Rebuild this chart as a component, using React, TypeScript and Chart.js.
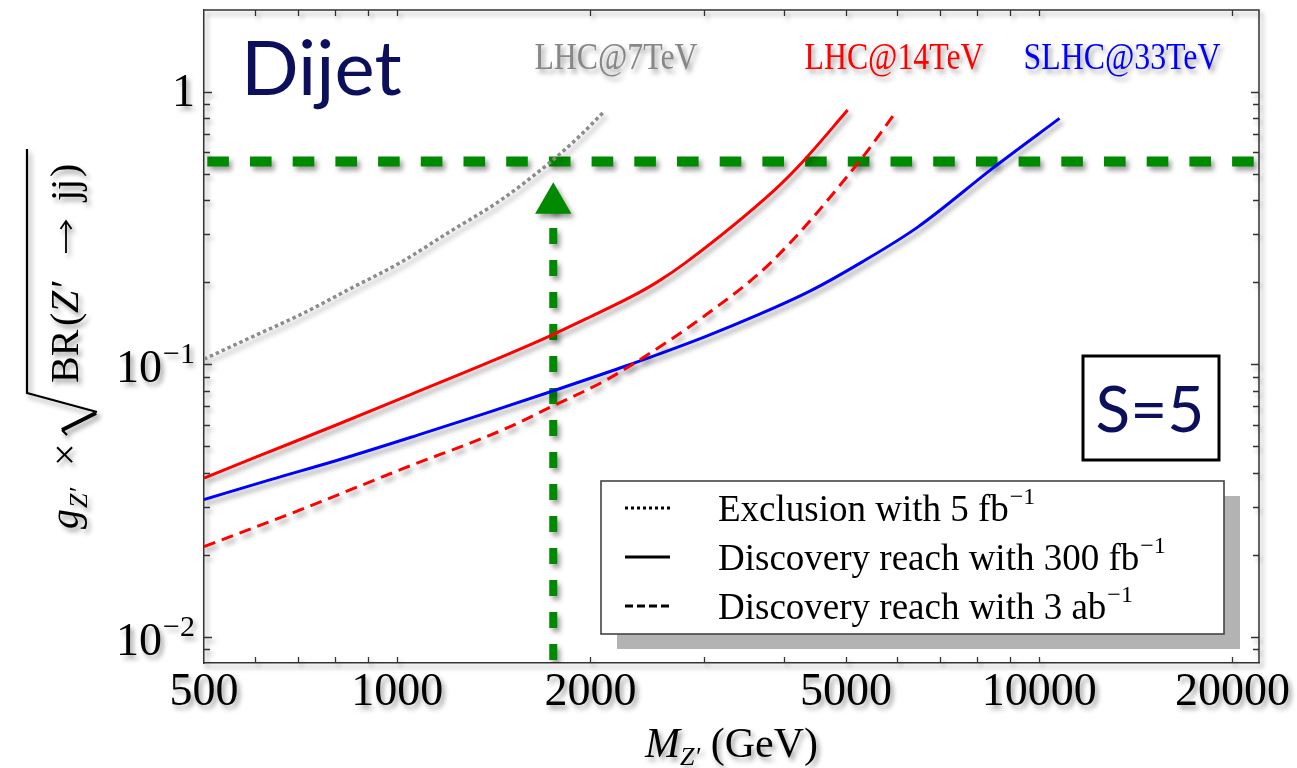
import React, { useEffect, useRef } from "react";
import { Chart, registerables } from "chart.js";

Chart.register(...registerables);

// ---- axis ranges -------------------------------------------------------
const massMin = 500;
const massMax = 22000;
const couplingMin = 0.008;
const couplingMax = 2;

// ---- tick positions and labels -----------------------------------------
const massTicks = [500, 600, 700, 800, 900, 1000, 2000, 3000, 4000, 5000, 6000, 7000, 8000, 9000, 10000, 20000];
const massTickLabels = [500, 1000, 2000, 5000, 10000, 20000];
const couplingTicks = [
  0.008, 0.009, 0.01, 0.02, 0.03, 0.04, 0.05, 0.06, 0.07, 0.08, 0.09,
  0.1, 0.2, 0.3, 0.4, 0.5, 0.6, 0.7, 0.8, 0.9, 1, 2,
];
const couplingLabelValues = [1, 0.1, 0.01];
const couplingLabelBase = ["1", "10", "10"];
const couplingLabelExp = ["", "−1", "−2"];

// ---- LHC @ 7 TeV, exclusion with 5 fb^-1 -------------------------------
const lhc7Mass = [500, 590, 706, 845, 1011, 1209, 1448, 1733, 1916, 2096];
const lhc7Exclusion = [0.1044, 0.1252, 0.152, 0.1896, 0.2363, 0.3075, 0.4, 0.5535, 0.6826, 0.844];

// ---- LHC @ 14 TeV, discovery reach with 300 fb^-1 -----------------------
const lhc14Mass = [500, 598, 807, 1051, 1400, 1738, 2000, 2316, 2547, 2814, 3865, 4279, 5031];
const lhc14Reach300 = [0.0382, 0.0453, 0.0601, 0.0776, 0.1025, 0.1278, 0.1495, 0.1771, 0.2012, 0.2363, 0.4355, 0.5535, 0.858];

// ---- LHC @ 14 TeV, discovery reach with 3 ab^-1 -------------------------
const lhc14MassHL = [500, 716, 1025, 1469, 1747, 2104, 2371, 3013, 3819, 5238, 5934];
const lhc14Reach3000 = [0.0214, 0.02958, 0.04153, 0.0578, 0.07027, 0.0869, 0.1029, 0.1508, 0.2363, 0.5535, 0.823];

// ---- SLHC @ 33 TeV, discovery reach with 300 fb^-1 ----------------------
const slhcMass = [500, 635, 807, 1076, 1383, 1747, 2234, 3013, 3684, 4409, 5277, 6468, 8517, 10757];
const slhcReach300 = [0.03184, 0.03772, 0.04444, 0.05494, 0.06649, 0.0798, 0.0973, 0.1262, 0.1534, 0.1864, 0.2363, 0.319, 0.5307, 0.8];

// ---- benchmark guide lines ----------------------------------------------
const benchmarkCoupling = 0.555;
const benchmarkMass = 1750;
const arrowCoupling = 0.39;

// ---- annotations ---------------------------------------------------------
const colliderNames = ["LHC@7TeV", "LHC@14TeV", "SLHC@33TeV"];
const colliderColors = ["#878787", "#ff0000", "#0000ff"];
const legendTexts = ["Exclusion with 5 fb", "Discovery reach with 300 fb", "Discovery reach with 3 ab"];
const legendDashes: number[][] = [[3, 3], [], [8, 4]];

const SERIF = '"Liberation Serif", "Times New Roman", serif';
const SANS = 'Lato, "Open Sans", sans-serif';
const NAVY = "#0b0f5c";
const GREEN = "#008a00";

const pts = (xs: number[], ys: number[]) => xs.map((x, i) => ({ x, y: ys[i] }));

function setShadow(ctx: CanvasRenderingContext2D) {
  ctx.shadowColor = "rgba(0,0,0,0.38)";
  ctx.shadowBlur = 5;
  ctx.shadowOffsetX = 3;
  ctx.shadowOffsetY = 4;
}

function drawInwardTicks(chart: any) {
  const ctx: CanvasRenderingContext2D = chart.ctx;
  const { left, right, top, bottom } = chart.chartArea;
  const xs = chart.scales.x;
  const ys = chart.scales.y;
  ctx.save();
  ctx.strokeStyle = "#333";
  ctx.lineWidth = 1.3;
  ctx.beginPath();
  for (const v of massTicks) {
    const px = Math.round(xs.getPixelForValue(v)) + 0.5;
    if (px <= left + 1 || px >= right - 1) continue;
    ctx.moveTo(px, bottom);
    ctx.lineTo(px, bottom - 6);
    ctx.moveTo(px, top);
    ctx.lineTo(px, top + 6);
  }
  for (const v of couplingTicks) {
    const py = Math.round(ys.getPixelForValue(v)) + 0.5;
    if (py <= top + 1 || py >= bottom - 1) continue;
    const len = couplingLabelValues.includes(v) ? 8 : 6;
    ctx.moveTo(left, py);
    ctx.lineTo(left + len, py);
    ctx.moveTo(right, py);
    ctx.lineTo(right - len, py);
  }
  ctx.stroke();
  // upper and right frame edges
  ctx.lineWidth = 1.5;
  ctx.beginPath();
  ctx.moveTo(left, top);
  ctx.lineTo(right, top);
  ctx.lineTo(right, bottom);
  ctx.stroke();
  ctx.restore();
}

function drawCouplingLabels(chart: any) {
  const ctx: CanvasRenderingContext2D = chart.ctx;
  const ys = chart.scales.y;
  const xRight = chart.chartArea.left - 9;
  ctx.save();
  ctx.fillStyle = "#000";
  ctx.textBaseline = "alphabetic";
  ctx.textAlign = "left";
  couplingLabelValues.forEach((v, i) => {
    const py = ys.getPixelForValue(v);
    const base = couplingLabelBase[i];
    const exp = couplingLabelExp[i];
    ctx.font = `46px ${SERIF}`;
    const wb = ctx.measureText(base).width;
    ctx.font = `30px ${SERIF}`;
    const we = exp ? ctx.measureText(exp).width + 1 : 0;
    const x0 = xRight - wb - we;
    const baseline = py + (exp ? 18 : 14);
    ctx.font = `46px ${SERIF}`;
    ctx.fillText(base, x0, baseline);
    if (exp) {
      ctx.font = `30px ${SERIF}`;
      ctx.fillText(exp, x0 + wb + 1, baseline - 19);
    }
  });
  ctx.restore();
}

function drawXTitle(ctx: CanvasRenderingContext2D, cx: number, baseline: number) {
  ctx.save();
  ctx.fillStyle = "#000";
  ctx.textBaseline = "alphabetic";
  ctx.textAlign = "left";
  const parts: [string, string, number][] = [
    ["M", `italic 42px ${SERIF}`, 0],
    ["Z′", `italic 26px ${SERIF}`, 8],
    [" (GeV)", `42px ${SERIF}`, 0],
  ];
  let total = 0;
  for (const [t, f] of parts) {
    ctx.font = f;
    total += ctx.measureText(t).width;
  }
  let x = cx - total / 2;
  for (const [t, f, dy] of parts) {
    ctx.font = f;
    ctx.fillText(t, x, baseline + dy);
    x += ctx.measureText(t).width;
  }
  ctx.restore();
}

// vertical axis title: g_Z' x sqrt(BR(Z' -> jj)), read bottom to top
function drawYTitle(ctx: CanvasRenderingContext2D) {
  const F = 40;
  const baseX = 78;
  const piece = (t: string, font: string, startY: number, dy = 0) => {
    ctx.save();
    ctx.translate(baseX, startY);
    ctx.rotate(-Math.PI / 2);
    ctx.font = font;
    ctx.fillText(t, 0, dy);
    ctx.restore();
  };
  ctx.save();
  ctx.fillStyle = "#000";
  ctx.strokeStyle = "#000";
  ctx.textBaseline = "alphabetic";
  ctx.textAlign = "left";
  piece("g", `italic ${F}px ${SERIF}`, 529);
  piece("Z′", `italic 26px ${SERIF}`, 508, 9);
  piece("×", `${F}px ${SERIF}`, 466);
  piece("BR", `${F}px ${SERIF}`, 383);
  piece("(", `${F}px ${SERIF}`, 326);
  piece("Z", `italic ${F}px ${SERIF}`, 313);
  piece("′", `${F}px ${SERIF}`, 288);
  piece("jj", `${F}px ${SERIF}`, 201);
  piece(")", `${F}px ${SERIF}`, 177);
  // arrow inside the branching ratio
  ctx.lineWidth = 1.8;
  ctx.beginPath();
  ctx.moveTo(66, 253);
  ctx.lineTo(66, 222);
  ctx.moveTo(60.5, 229);
  ctx.lineTo(66, 221);
  ctx.lineTo(71.5, 229);
  ctx.stroke();
  // radical sign with its overbar
  ctx.lineJoin = "miter";
  ctx.lineCap = "butt";
  ctx.lineWidth = 2.2;
  ctx.beginPath();
  ctx.moveTo(67, 435);
  ctx.lineTo(62, 430);
  ctx.stroke();
  ctx.lineWidth = 4;
  ctx.beginPath();
  ctx.moveTo(62, 430);
  ctx.lineTo(96, 413);
  ctx.stroke();
  ctx.lineWidth = 2.2;
  ctx.beginPath();
  ctx.moveTo(97, 412);
  ctx.lineTo(27, 393);
  ctx.lineTo(27, 149);
  ctx.stroke();
  ctx.restore();
}

function drawLegend(ctx: CanvasRenderingContext2D) {
  const L = 601, T = 481, R = 1224, B = 634;
  ctx.save();
  ctx.fillStyle = "#b3b3b3";
  ctx.fillRect(L + 16, T + 15, R - L, B - T);
  ctx.fillStyle = "#fff";
  ctx.fillRect(L, T, R - L, B - T);
  ctx.strokeStyle = "#444";
  ctx.lineWidth = 1.6;
  ctx.strokeRect(L, T, R - L, B - T);
  legendTexts.forEach((text, i) => {
    const cy = 508 + i * 49;
    ctx.strokeStyle = "#000";
    ctx.lineWidth = 3;
    ctx.setLineDash(legendDashes[i]);
    ctx.beginPath();
    ctx.moveTo(625, cy);
    ctx.lineTo(670, cy);
    ctx.stroke();
    ctx.setLineDash([]);
    ctx.fillStyle = "#000";
    ctx.textBaseline = "alphabetic";
    ctx.font = `37px ${SERIF}`;
    ctx.fillText(text, 718, cy + 13);
    const w = ctx.measureText(text).width;
    ctx.font = `24px ${SERIF}`;
    ctx.fillText("−1", 718 + w + 1, cy - 4);
  });
  ctx.restore();
}

function drawColliderNames(ctx: CanvasRenderingContext2D) {
  const centers = [616, 894, 1122];
  ctx.save();
  ctx.textBaseline = "alphabetic";
  ctx.textAlign = "center";
  colliderNames.forEach((name, i) => {
    ctx.save();
    ctx.translate(centers[i], 69);
    ctx.scale(0.86, 1);
    ctx.font = `37px ${SERIF}`;
    ctx.fillStyle = colliderColors[i];
    ctx.fillText(name, 0, 0);
    ctx.restore();
  });
  ctx.restore();
}

function drawBadges(ctx: CanvasRenderingContext2D) {
  ctx.save();
  ctx.fillStyle = NAVY;
  ctx.textBaseline = "alphabetic";
  ctx.textAlign = "left";
  ctx.font = `76px ${SANS}`;
  ctx.fillText("Dijet", 241, 95);
  // significance box
  ctx.strokeStyle = "#000";
  ctx.lineWidth = 3;
  ctx.strokeRect(1083, 356, 136, 104);
  ctx.font = `64px ${SANS}`;
  ctx.textAlign = "center";
  ctx.fillText("S=5", 1150, 432);
  ctx.restore();
}

const decorations = {
  id: "decorations",
  beforeDraw(chart: any) {
    chart.ctx.save();
    setShadow(chart.ctx);
  },
  afterDatasetsDraw(chart: any) {
    drawInwardTicks(chart);
  },
  afterDraw(chart: any) {
    const ctx: CanvasRenderingContext2D = chart.ctx;
    drawCouplingLabels(chart);
    drawXTitle(ctx, (chart.chartArea.left + chart.chartArea.right) / 2, 757);
    drawYTitle(ctx);
    drawColliderNames(ctx);
    ctx.restore();
    drawLegend(ctx);
    drawBadges(ctx);
  },
};

export default function App() {
  const canvasRef = useRef<HTMLCanvasElement | null>(null);

  useEffect(() => {
    const canvas = canvasRef.current;
    if (!canvas) return;
    const chart = new Chart(canvas, {
      type: "line",
      data: {
        datasets: [
          {
            label: "LHC@7TeV exclusion",
            data: pts(lhc7Mass, lhc7Exclusion),
            borderColor: "#8c8c8c",
            borderWidth: 3.5,
            borderDash: [3.5, 3],
            pointRadius: 0,
            cubicInterpolationMode: "monotone",
          },
          {
            label: "LHC@14TeV 300/fb",
            data: pts(lhc14Mass, lhc14Reach300),
            borderColor: "#ff0000",
            borderWidth: 3,
            pointRadius: 0,
            cubicInterpolationMode: "monotone",
          },
          {
            label: "LHC@14TeV 3/ab",
            data: pts(lhc14MassHL, lhc14Reach3000),
            borderColor: "#ff0000",
            borderWidth: 3,
            borderDash: [12, 7],
            pointRadius: 0,
            cubicInterpolationMode: "monotone",
          },
          {
            label: "SLHC@33TeV 300/fb",
            data: pts(slhcMass, slhcReach300),
            borderColor: "#0000ff",
            borderWidth: 3,
            pointRadius: 0,
            cubicInterpolationMode: "monotone",
          },
          {
            label: "benchmark coupling",
            data: [
              { x: massMin, y: benchmarkCoupling },
              { x: massMax, y: benchmarkCoupling },
            ],
            borderColor: GREEN,
            borderWidth: 10,
            borderDash: [21.6, 21.1],
            borderDashOffset: 39.4,
            borderCapStyle: "butt",
            pointRadius: 0,
          },
          {
            label: "benchmark mass",
            data: [
              { x: benchmarkMass, y: couplingMin },
              { x: benchmarkMass, y: arrowCoupling },
            ],
            borderColor: GREEN,
            borderWidth: 8,
            borderDash: [16, 16],
            borderDashOffset: 29,
            borderCapStyle: "butt",
            pointRadius: [0, 21],
            pointStyle: "triangle",
            pointBackgroundColor: GREEN,
            pointBorderColor: GREEN,
            pointBorderWidth: 0,
          },
        ],
      },
      options: {
        responsive: false,
        maintainAspectRatio: false,
        animation: false,
        devicePixelRatio: 1,
        layout: { autoPadding: false, padding: { top: 10, right: 38, left: 0, bottom: 0 } },
        plugins: {
          legend: { display: false },
          tooltip: { enabled: false },
        },
        scales: {
          x: {
            type: "logarithmic",
            min: massMin,
            max: massMax,
            afterBuildTicks: (s: any) => {
              s.ticks = massTicks.map((v) => ({ value: v }));
            },
            afterFit: (s: any) => {
              s.height = 105;
            },
            ticks: {
              autoSkip: false,
              maxRotation: 0,
              padding: 2,
              color: "#000",
              font: { family: SERIF, size: 46 },
              callback: (v: any) => (massTickLabels.includes(Number(v)) ? String(v) : ""),
            },
            grid: { display: false, drawTicks: false },
            border: { display: true, color: "#333", width: 1.5 },
          },
          y: {
            type: "logarithmic",
            min: couplingMin,
            max: couplingMax,
            afterBuildTicks: (s: any) => {
              s.ticks = couplingTicks.map((v) => ({ value: v }));
            },
            afterFit: (s: any) => {
              s.width = 204;
            },
            ticks: { display: false },
            grid: { display: false, drawTicks: false },
            border: { display: true, color: "#333", width: 1.5 },
          },
        },
      },
      plugins: [decorations],
    } as any);
    return () => chart.destroy();
  }, []);

  return (
    <div style={{ position: "absolute", left: 0, top: 0, width: 1297, height: 768, background: "#fff" }}>
      <canvas ref={canvasRef} width={1297} height={768} style={{ display: "block" }} />
    </div>
  );
}
